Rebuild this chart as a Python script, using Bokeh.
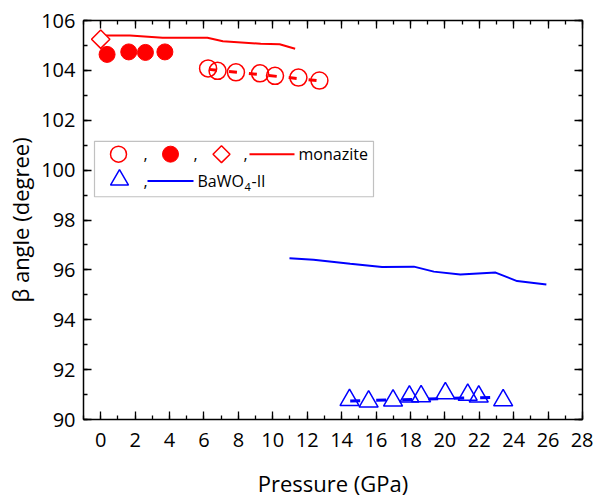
import math
from bokeh.plotting import figure
from bokeh.models import (LinearAxis, SingleIntervalTicker, Range1d, Label, BoxAnnotation)
from bokeh.embed import file_html
from bokeh.resources import INLINE

# ---------------- data ----------------
# monazite, open circles
mono_open_p = [6.24, 6.79, 7.86, 9.26, 10.13, 11.49, 12.71]
mono_open_b = [104.08, 103.98, 103.92, 103.88, 103.78, 103.71, 103.59]
# monazite, filled circles
mono_fill_p = [0.37, 1.63, 2.60, 3.73]
mono_fill_b = [104.64, 104.74, 104.72, 104.74]
# monazite, diamond
mono_dia_p = [0.0]
mono_dia_b = [105.25]
# monazite, calculation line
mono_line_p = [0.17, 1.7, 3.6, 6.2, 7.1, 9.3, 10.4, 11.3]
mono_line_b = [105.40, 105.40, 105.31, 105.31, 105.17, 105.07, 105.05, 104.87]
# monazite linear fit (dashed)
mono_fit_p = [6.3, 12.6]
mono_fit_b = [104.04, 103.59]

# BaWO4-II, triangles
bawo_tri_p = [14.46, 15.57, 16.99, 17.94, 18.62, 20.03, 21.33, 21.97, 23.39]
bawo_tri_b = [90.78, 90.72, 90.76, 90.92, 90.93, 91.05, 90.99, 90.92, 90.77]
# BaWO4-II, calculation line
bawo_line_p = [10.97, 12.37, 14.5, 16.35, 18.2, 19.36, 20.9, 22.95, 24.2, 25.9]
bawo_line_b = [96.47, 96.41, 96.25, 96.12, 96.13, 95.93, 95.81, 95.89, 95.55, 95.41]
# BaWO4-II linear fit (dashed)
bawo_fit_p = [14.5, 22.9]
bawo_fit_b = [90.74, 90.89]

x_label = "Pressure (GPa)"
y_label = "β angle (degree)"
legend_mono = "monazite"

RED = "#FF0000"
BLUE = "#0000FF"
FONT = "Open Sans"

XMIN, XMAX = -1, 28
YMIN, YMAX = 90, 106
W, H = 593, 500
BL, BR, BT, BB = 83, 11, 20, 77

p = figure(width=W, height=H, output_backend="svg", toolbar_location=None,
           x_range=Range1d(XMIN, XMAX), y_range=Range1d(YMIN, YMAX),
           min_border_left=BL, min_border_right=BR, min_border_top=BT,
           min_border_bottom=BB, x_axis_label=x_label, y_axis_label=y_label)
p.grid.visible = False
p.outline_line_color = None
p.background_fill_color = "white"
p.border_fill_color = "white"

def style_axis(ax, labels=True):
    ax.axis_line_width = 1.5
    ax.axis_line_color = "black"
    ax.major_tick_in = 8
    ax.major_tick_out = 0
    ax.minor_tick_in = 4
    ax.minor_tick_out = 0
    ax.major_tick_line_width = 1.3
    ax.minor_tick_line_width = 1.3
    ax.major_tick_line_color = "black"
    ax.minor_tick_line_color = "black"
    ax.major_label_text_font = FONT
    ax.major_label_text_font_size = "20px"
    ax.major_label_text_color = "black" if labels else None
    ax.axis_label_text_font = FONT
    ax.axis_label_text_font_size = "22px"
    ax.axis_label_text_font_style = "normal"
    ax.axis_label_text_color = "black"

p.xaxis.ticker = SingleIntervalTicker(interval=2, num_minor_ticks=2)
p.yaxis.ticker = SingleIntervalTicker(interval=2, num_minor_ticks=2)
for ax in p.xaxis + p.yaxis:
    style_axis(ax)
p.xaxis.major_label_standoff = 13
p.xaxis.axis_label_standoff = 18
p.yaxis.major_label_standoff = 8
p.yaxis.axis_label_standoff = 3

top = LinearAxis(ticker=SingleIntervalTicker(interval=2, num_minor_ticks=2))
right = LinearAxis(ticker=SingleIntervalTicker(interval=2, num_minor_ticks=2))
style_axis(top, labels=False)
style_axis(right, labels=False)
top.major_label_text_font_size = "1px"
right.major_label_text_font_size = "1px"
p.add_layout(top, "above")
p.add_layout(right, "right")

# ---------------- data glyphs ----------------
p.line(mono_line_p, mono_line_b, line_color=RED, line_width=2)
p.line(bawo_line_p, bawo_line_b, line_color=BLUE, line_width=2)
p.line(mono_fit_p, mono_fit_b, line_color=RED, line_width=3, line_dash="8 12")
p.line(bawo_fit_p, bawo_fit_b, line_color=BLUE, line_width=3, line_dash="10 16")

p.scatter(mono_open_p, mono_open_b, marker="circle", size=17, fill_color=None,
          line_color=RED, line_width=1.5)
p.scatter(mono_fill_p, mono_fill_b, marker="circle", size=16, fill_color=RED,
          line_color=RED, line_width=1)
p.scatter(mono_dia_p, mono_dia_b, marker="square", size=13, angle=math.pi / 4,
          fill_color="white", line_color=RED, line_width=1.5)
p.scatter(bawo_tri_p, bawo_tri_b, marker="triangle", size=19, fill_color=None,
          line_color=BLUE, line_width=1.5)

# ---------------- legend (layout positions in pixels) ----------------
FL, FR, FT, FB = BL, W - BR, BT, H - BB
def dx(px):
    return XMIN + (px - FL) / (FR - FL) * (XMAX - XMIN)
def dy(py):
    return YMAX - (py - FT) / (FB - FT) * (YMAX - YMIN)

p.add_layout(BoxAnnotation(left=dx(94), right=dx(373), top=dy(142), bottom=dy(198),
                           fill_color="white", fill_alpha=1, line_color="#333333",
                           line_width=1.2, level="underlay"))
r1, r2 = 155, 182
p.scatter([dx(118)], [dy(r1)], marker="circle", size=16, fill_color=None,
          line_color=RED, line_width=1.5)
p.scatter([dx(170)], [dy(r1)], marker="circle", size=16, fill_color=RED,
          line_color=RED)
p.scatter([dx(221)], [dy(r1)], marker="square", size=12, angle=math.pi / 4,
          fill_color=None, line_color=RED, line_width=1.5)
p.line([dx(249), dx(294)], [dy(r1), dy(r1)], line_color=RED, line_width=2)
p.scatter([dx(119)], [dy(r2 - 1)], marker="triangle", size=18, fill_color=None,
          line_color=BLUE, line_width=1.5)
p.line([dx(147), dx(193)], [dy(r2), dy(r2)], line_color=BLUE, line_width=2)

def lab(px, py, text, size="16px", align="left"):
    p.add_layout(Label(x=dx(px), y=dy(py), text=text, text_font=FONT,
                       text_font_size=size, text_align=align,
                       text_baseline="middle", text_color="black"))

for cx in (145, 195, 245):
    lab(cx, r1, ",", align="center")
lab(145, r2, ",", align="center")
lab(298, r1, legend_mono)
lab(197, r2, "BaWO")
lab(244, r2 + 6, "4", size="11px")
lab(251, r2, "-II")

open("out.html", "w").write(file_html(p, INLINE))
